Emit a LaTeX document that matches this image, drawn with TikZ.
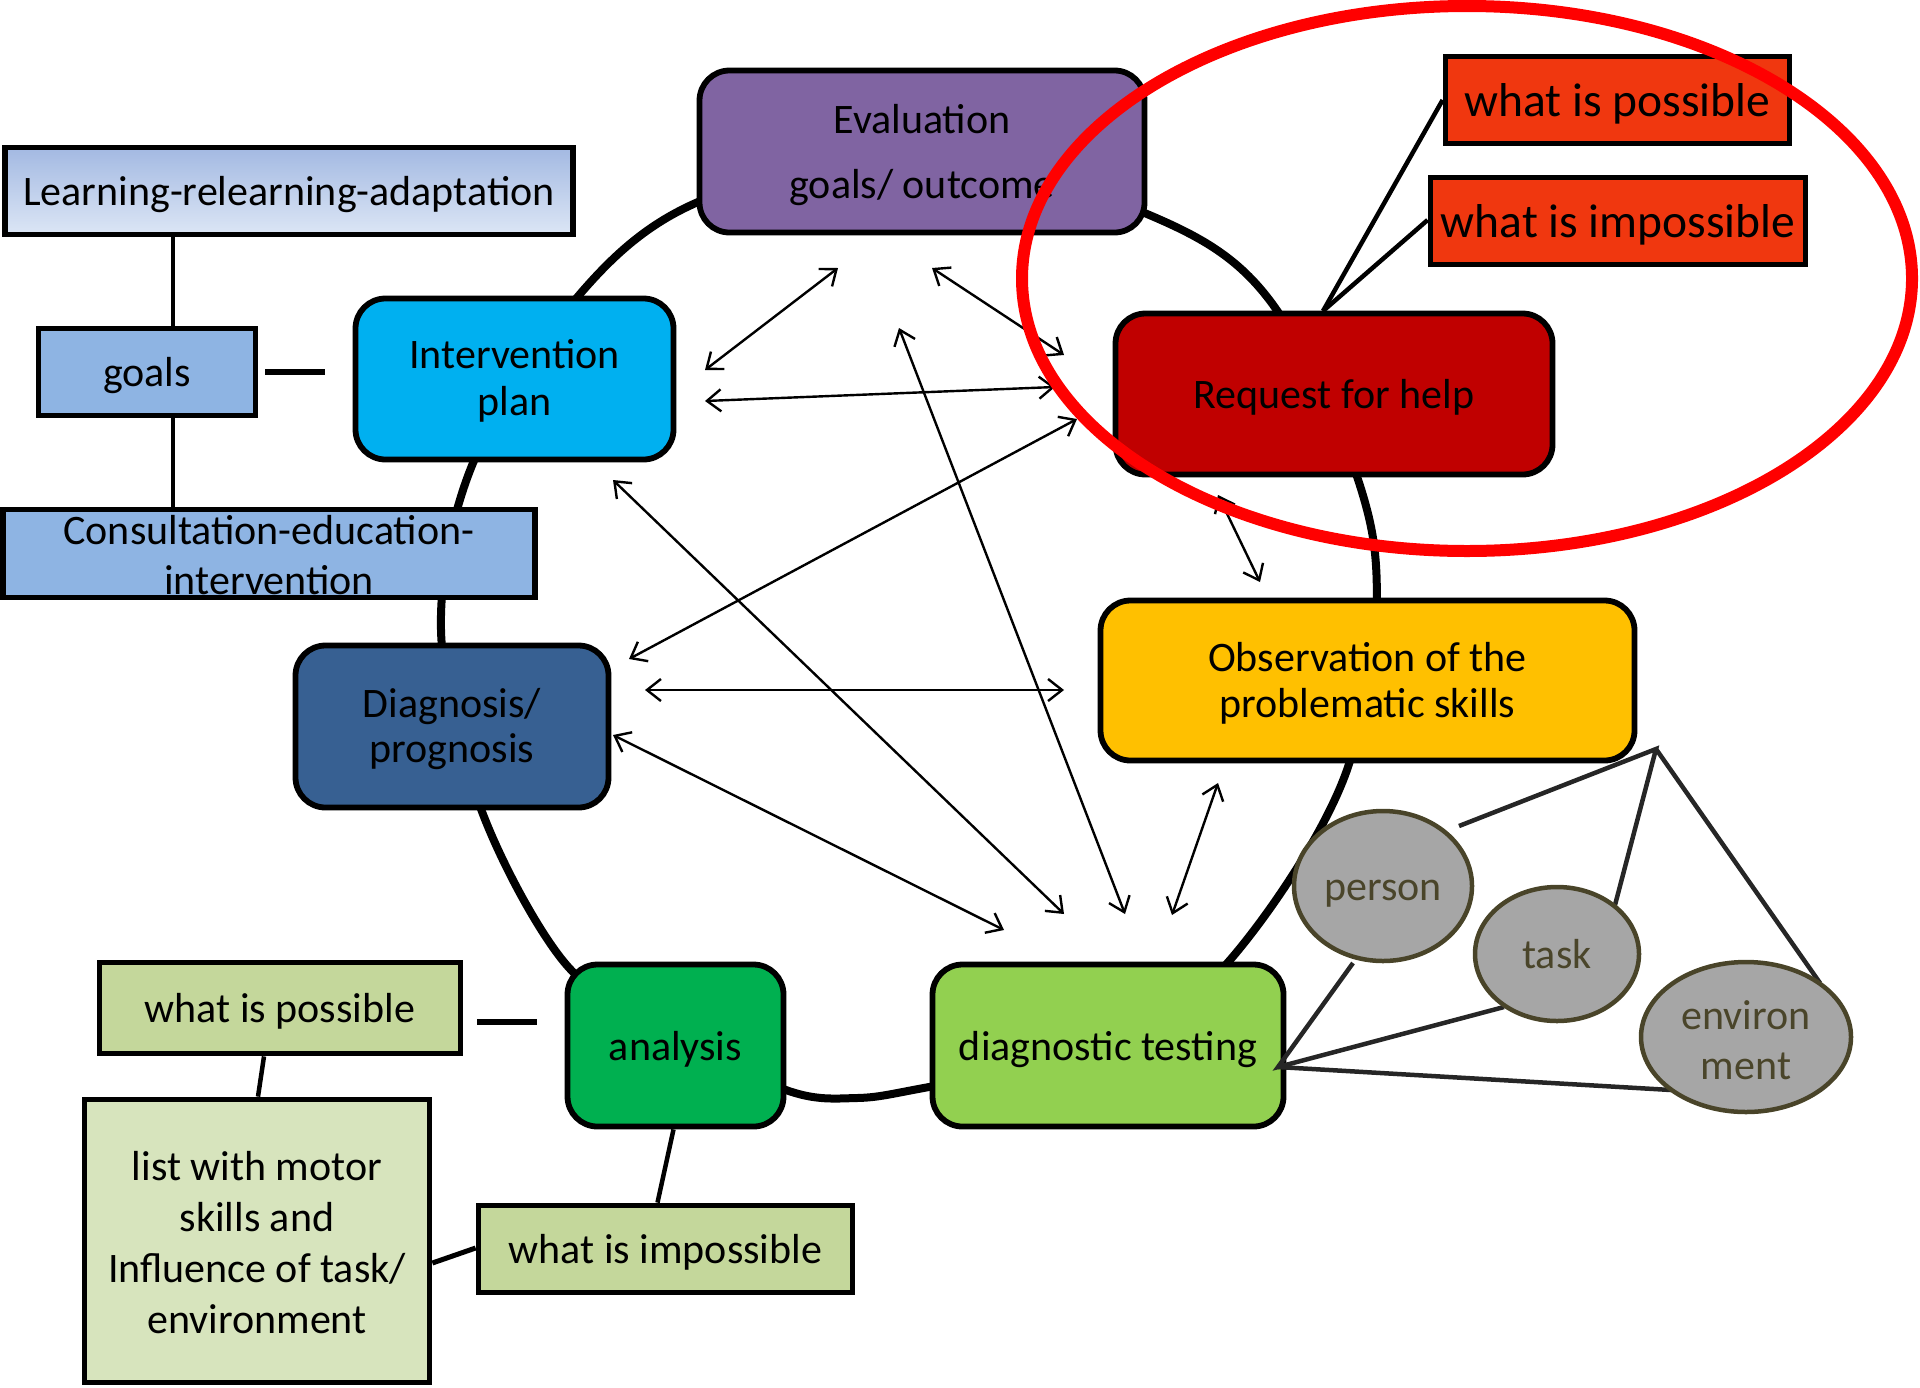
\documentclass[tikz,border=0pt]{standalone}
\usepackage{fontspec}
\setmainfont{Carlito}
\usetikzlibrary{arrows.meta,shapes.geometric}

\definecolor{evalpurple}{HTML}{8064A2}
\definecolor{planblue}{HTML}{00B0F0}
\definecolor{diagblue}{HTML}{376092}
\definecolor{anagreen}{HTML}{00B050}
\definecolor{testgreen}{HTML}{92D050}
\definecolor{obsyellow}{HTML}{FFC000}
\definecolor{reqred}{HTML}{C00000}
\definecolor{limitred}{HTML}{F0370F}
\definecolor{goalblue}{HTML}{8EB4E3}
\definecolor{learntop}{HTML}{A3B9E2}
\definecolor{learnbot}{HTML}{DCE6F5}
\definecolor{olivegreen}{HTML}{C4D79B}
\definecolor{paleolive}{HTML}{D7E4BD}
\definecolor{factorgray}{HTML}{A6A6A6}
\definecolor{factorline}{HTML}{494429}
\definecolor{factortext}{HTML}{4A452A}
\definecolor{spokegray}{HTML}{262626}
\definecolor{markred}{HTML}{FF0000}

\begin{document}
\begin{tikzpicture}[x=0.5pt,y=-0.5pt,
  every node/.style={inner sep=0pt, align=center},
  txt/.style={font=\fontsize{21}{24}\selectfont},
  oneline/.style={txt, text height=19pt, text depth=4.5pt},
  bigline/.style={font=\fontsize{23.75}{26}\selectfont, text height=20.5pt, text depth=4.5pt},
  stage/.style={draw=black, line width=2.9pt, rounded corners=15pt, oneline},
  plainbox/.style={draw=black, line width=2.9pt, oneline},
  factor/.style={ellipse, draw=factorline, fill=factorgray, line width=2.25pt, text=factortext, oneline},
  ring/.style={line width=4pt},
  link/.style={line width=2.25pt},
  biarrow/.style={line width=1.2pt,
    {Straight Barb[length=7pt,width=11pt]}-{Straight Barb[length=7pt,width=11pt]}},
  spoke/.style={draw=spokegray, line width=2.25pt},
]
\useasboundingbox (0,0) rectangle (1920,1387);

% the assessment cycle running through all stages
\draw[ring] plot[smooth cycle, tension=0.55] coordinates {
  (906,153) (1147,214) (1276,309) (1373,538) (1348,767) (1230,960) (1100,1054)
  (929,1087) (857,1098) (786,1090) (660,1027) (564,962) (481,809) (441,630)
  (473,463) (580,294) (698,202)};

% stages of the cycle
\node[stage, fill=evalpurple, minimum width=222.5pt, minimum height=81pt,
      label={[name=eval-text, font=\fontsize{21}{32.5}\selectfont, yshift=-1.8pt]center:{Evaluation\\goals/ outcome}}]
      (eval) at (922,151.5) {};
\node[stage, fill=reqred, minimum width=218.5pt, minimum height=80.5pt] (req) at (1334,394) {Request for help};
\node[stage, fill=obsyellow, minimum width=267pt, minimum height=80pt,
      label={[name=obs-text, font=\fontsize{21}{23}\selectfont, yshift=-1.5pt]center:{Observation of the\\problematic skills}}]
      (obs) at (1367.5,680.5) {};
\node[stage, fill=testgreen, minimum width=175.5pt, minimum height=81pt] (test) at (1108,1045.5) {diagnostic testing};
\node[stage, fill=anagreen, minimum width=108pt, minimum height=81pt] (ana) at (675.5,1045.5) {analysis};
\node[stage, fill=diagblue, minimum width=156.5pt, minimum height=81pt,
      label={[name=diag-text, font=\fontsize{21}{22.5}\selectfont, yshift=-1.5pt]center:{Diagnosis/\\prognosis}}]
      (diag) at (452,726.5) {};
\node[stage, fill=planblue, minimum width=159pt, minimum height=80.5pt,
      label={[name=plan-text, font=\fontsize{21}{23.5}\selectfont, yshift=-1pt]center:{Intervention\\plan}}]
      (plan) at (514.5,379) {};

% intervention side boxes
\node[plainbox, top color=learntop, bottom color=learnbot, minimum width=284pt, minimum height=43.5pt]
      (learn) at (289,191) {Learning-relearning-adaptation};
\node[plainbox, fill=goalblue, minimum width=108.5pt, minimum height=43.5pt] (goals) at (147,372) {goals};
\node[plainbox, fill=goalblue, minimum width=266pt, minimum height=44pt,
      label={[name=consult-text, font=\fontsize{21}{25}\selectfont, yshift=-1pt]center:{Consultation-education-\\intervention}}]
      (consult) at (269,553.5) {};
\draw[link] (learn.south -| 173,0) -- (goals.north -| 173,0);
\draw[link] (goals.south -| 173,0) -- (consult.north -| 173,0);
\coordinate (gdashA) at (265,372);
\coordinate (gdashB) at (325,372);
\draw[link, line width=2.75pt] (gdashA) -- (gdashB);

% analysis side boxes
\node[plainbox, fill=olivegreen, minimum width=180.5pt, minimum height=45.5pt] (poss) at (280,1008) {what is possible};
\node[plainbox, fill=paleolive, minimum width=172.5pt, minimum height=141.5pt,
      label={[name=list-text, font=\fontsize{21}{25.5}\selectfont, yshift=-0.6pt]center:{list with motor\\skills and\\Influence of task/\\environment}}]
      (list) at (257,1241) {};
\node[plainbox, fill=olivegreen, minimum width=187pt, minimum height=43.5pt] (imposs) at (665.5,1249) {what is impossible};
\draw[link] ([xshift=-8pt]poss.south) -- ([xshift=0.5pt]list.north);
\draw[link] ([xshift=-1pt]ana.south) -- ([xshift=-4pt]imposs.north);
\draw[link, line width=2.5pt] ([yshift=-11pt]list.east) -- ([yshift=0.5pt]imposs.west);
\coordinate (adashA) at (477,1022);
\coordinate (adashB) at (537,1022);
\draw[link, line width=2.75pt] (adashA) -- (adashB);

% request side boxes
\node[plainbox, bigline, fill=limitred, minimum width=172pt, minimum height=43.5pt] (rposs) at (1617.5,100) {what is possible};
\node[plainbox, bigline, fill=limitred, minimum width=187.5pt, minimum height=43.5pt] (rimposs) at (1618,221) {what is impossible};
\coordinate (rqtop) at (1323,311);
\draw[link] (rqtop) -- (rposs.west);
\draw[link] (rqtop) -- ([yshift=0.5pt]rimposs.west);

% factors of the diagnostic testing
\coordinate (fapex) at (1656,749);
\coordinate (fbase) at (1278,1067);
\coordinate (pA) at (1459,826);
\coordinate (tA) at (1615,905);
\coordinate (eA) at (1820,983);
\coordinate (pB) at (1353,963);
\coordinate (tB) at (1504,1007);
\coordinate (eB) at (1671,1090);
\draw[spoke] (pA) -- (fapex) -- (tA);
\draw[spoke] (fapex) -- (eA);
\draw[spoke] (pB) -- (fbase) -- (tB);
\draw[spoke] (fbase) -- (eB);
\node[factor, minimum width=89pt, minimum height=75pt] (person) at (1383,886) {person};
\node[factor, minimum width=82pt, minimum height=67pt] (task) at (1557,954) {task};
\node[factor, minimum width=105pt, minimum height=75pt,
      label={[name=env-text, font=\fontsize{21}{25}\selectfont, text=factortext, yshift=-1.5pt]center:{environ\\ment}}]
      (env) at (1746,1037) {};

% mutual influences between the stages
\coordinate (a1s) at (705,370);  \coordinate (a1e) at (838,268);
\coordinate (a2s) at (932,268);  \coordinate (a2e) at (1064,355);
\coordinate (a3s) at (705,401);  \coordinate (a3e) at (1055,387);
\coordinate (a4s) at (629,659);  \coordinate (a4e) at (1077,419);
\coordinate (a5s) at (645,690);  \coordinate (a5e) at (1064,690);
\coordinate (a6s) at (613,735);  \coordinate (a6e) at (1004,930);
\coordinate (a7s) at (613,480);  \coordinate (a7e) at (1064,914);
\coordinate (a8s) at (899,328);  \coordinate (a8e) at (1125,914);
\coordinate (a9s) at (1218,783); \coordinate (a9e) at (1172,915);
\coordinate (a10s) at (1218,495); \coordinate (a10e) at (1260,582);
\foreach \k in {1,...,10} \draw[biarrow] (a\k s) -- (a\k e);

% highlight round the request for help
\draw[markred, line width=6pt] (1467,278.5) ellipse [x radius=445, y radius=272.5];
\end{tikzpicture}
\end{document}
